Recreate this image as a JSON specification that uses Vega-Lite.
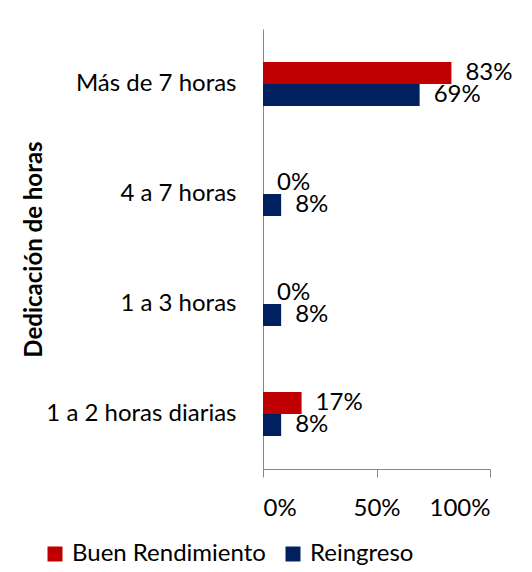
{
  "$schema": "https://vega.github.io/schema/vega-lite/v6.json",
  "autosize": {"type": "none"},
  "width": 227,
  "height": 440,
  "padding": {"left": 263, "top": 29, "right": 42, "bottom": 103},
  "background": "white",
  "config": {
    "font": "Lato",
    "view": {"stroke": null},
    "axis": {"grid": false, "domainColor": "#868686", "tickColor": "#868686", "labelColor": "#000000", "labelFont": "Lato", "labelFontSize": 24, "titleFont": "Lato", "labelLimit": 0},
    "legend": {"labelFont": "Lato", "labelFontSize": 24, "labelColor": "#000000", "labelLimit": 0}
  },
  "data": {
    "values": [
      {"cat": "Más de 7 horas", "serie": "Buen Rendimiento", "v": 0.83},
      {"cat": "Más de 7 horas", "serie": "Reingreso", "v": 0.69},
      {"cat": "4 a 7 horas", "serie": "Buen Rendimiento", "v": 0.0},
      {"cat": "4 a 7 horas", "serie": "Reingreso", "v": 0.08},
      {"cat": "1 a 3 horas\u00a0", "serie": "Buen Rendimiento", "v": 0.0},
      {"cat": "1 a 3 horas\u00a0", "serie": "Reingreso", "v": 0.08},
      {"cat": "1 a 2 horas diarias", "serie": "Buen Rendimiento", "v": 0.17},
      {"cat": "1 a 2 horas diarias", "serie": "Reingreso", "v": 0.08}
    ]
  },
  "encoding": {
    "y": {
      "field": "cat", "type": "nominal",
      "sort": ["Más de 7 horas", "4 a 7 horas", "1 a 3 horas\u00a0", "1 a 2 horas diarias"],
      "scale": {"paddingInner": 0.6, "paddingOuter": 0.3},
      "axis": {"title": "Dedicación de horas", "titleFontSize": 24, "titleFontWeight": "bold", "titleColor": "#000000", "titleX": -217, "titleY": 220, "ticks": false, "labelPadding": 27, "domainWidth": 1}
    },
    "yOffset": {"field": "serie", "type": "nominal", "sort": ["Buen Rendimiento", "Reingreso"]},
    "x": {
      "field": "v", "type": "quantitative",
      "scale": {"domain": [0, 1], "nice": false},
      "axis": {"title": null, "values": [0, 0.5, 1], "format": ".0%", "tickSize": 8, "labelPadding": 19, "domainWidth": 1}
    }
  },
  "layer": [
    {
      "mark": {"type": "bar"},
      "encoding": {
        "color": {
          "field": "serie", "type": "nominal",
          "scale": {"domain": ["Buen Rendimiento", "Reingreso"], "range": ["#C00000", "#002060"]},
          "legend": {"title": null, "orient": "none", "direction": "horizontal", "legendX": -220, "legendY": 513, "symbolType": "square", "symbolSize": 225, "symbolStrokeWidth": 0, "labelOffset": 5, "columnPadding": 15, "padding": 0}
        }
      }
    },
    {
      "mark": {"type": "text", "align": "left", "baseline": "middle", "dx": 14, "fontSize": 24, "font": "Lato", "color": "#000000"},
      "encoding": {
        "text": {"field": "v", "type": "quantitative", "format": ".0%"}
      }
    }
  ]
}
